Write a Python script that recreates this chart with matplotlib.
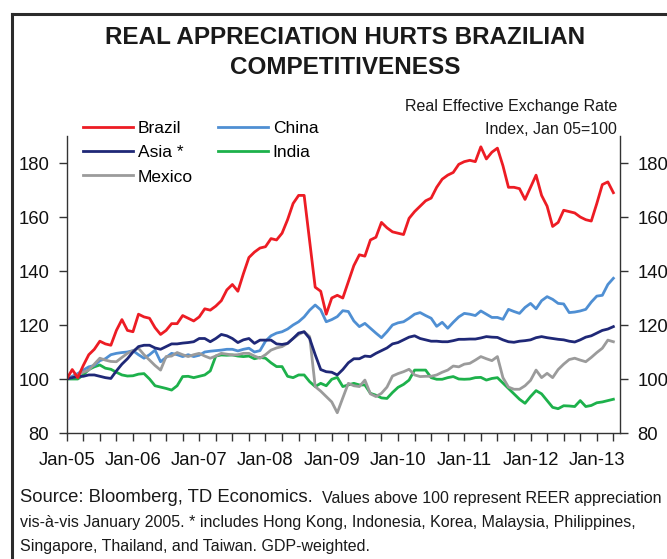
import matplotlib
matplotlib.use('Agg')
import matplotlib.pyplot as plt
from matplotlib.lines import Line2D
import numpy as np

plt.rcParams['font.family'] = ['Liberation Sans', 'DejaVu Sans']

# monthly REER index, Jan-05 .. Apr-13 (Jan 05 = 100)
brazil = [100, 103.5, 100.5, 105, 109, 111, 114, 113, 112.5, 118, 122, 118, 117.5, 124, 123, 122.5, 119, 116.5, 118, 120.5,
          120.5, 123.5, 122.5, 121.5, 123, 126, 125.5, 127, 129, 133, 135, 132.5, 139, 145, 147, 148.5, 149, 152, 151.5, 154,
          159, 165, 168, 168, 151, 134, 132.5, 124, 130, 131, 130, 136, 142, 146, 145.5, 151.5, 152.5, 158, 156, 154.5,
          154, 153.5, 159.5, 162, 164, 166, 167, 171, 174, 175.5, 176.5, 179.5, 180.5, 181, 180.5, 186, 181.5, 184, 185.5, 179,
          171, 171, 170.5, 166.5, 171, 175.5, 168, 164, 156.5, 158, 162.5, 162, 161.5, 160, 159, 158.5, 165, 172, 173, 169]
china = [100, 101, 102, 103.3, 104.5, 105, 106.8, 107.5, 109, 109.5, 109.8, 110, 110.5, 109, 107.7, 109, 110.7, 106.4, 108, 109.5,
         109, 108.3, 109, 108.3, 108.8, 110, 110.3, 110.5, 110.7, 111, 111, 110.4, 111, 111.4, 110, 110.5, 114, 116, 117, 117.5,
         118.5, 120, 121.2, 123, 125.5, 127.4, 125.6, 121.2, 122, 123.1, 125.3, 125, 121.5, 119.4, 120.6, 118.8, 117, 115.3, 117.5, 120,
         120.8, 121.2, 122.5, 124, 124.6, 123.5, 122.5, 119.5, 121, 118.8, 121, 123, 124.3, 124, 123.5, 125.2, 124, 122.8, 122.8, 122.1,
         125.8, 125, 124.3, 126.5, 128, 126, 129, 130.5, 129.5, 128, 127.8, 124.6, 124.8, 125.2, 125.8, 128.5, 130.7, 131, 135, 137.3]
asia = [100, 100.5, 101, 101, 101.5, 101.5, 101, 100.5, 100.2, 103, 105.5, 107.5, 110, 112, 112.5, 112.5, 111.5, 111, 112, 113,
        113, 113.3, 113.5, 113.8, 115, 115, 113.8, 115, 116.5, 116, 115, 113.5, 114.5, 115, 113.2, 114.4, 114.4, 114.4, 113, 112.8,
        113.2, 115, 117, 117.5, 115, 109, 103.5, 102.7, 102.5, 101.5, 103.5, 106, 107.5, 107.5, 108.5, 108.3, 109.5, 110.5, 111.5, 113,
        113.5, 114.5, 115.5, 116, 115, 114.5, 114, 114, 113.8, 113.8, 114.2, 114.7, 114.7, 114.8, 114.8, 115.2, 115.7, 115.5, 115.4, 114.5,
        113.8, 113.6, 114, 114.2, 114.5, 115.3, 115.7, 115.3, 115, 114.7, 114.5, 114, 113.7, 114.5, 115.5, 116, 117, 118, 118.5, 119.4]
india = [100, 100, 100, 101.5, 103.5, 104.5, 105.2, 104, 103.6, 102.5, 101.5, 101.1, 101.2, 101.8, 102, 100, 97.5, 97, 96.5, 95.9,
         97.5, 100.9, 101, 100.5, 101, 101.5, 103, 108.5, 108.9, 108.8, 108.9, 108.5, 108.3, 108.5, 107.5, 108, 107.7, 106, 104.6, 104.6,
         101, 100.5, 101.5, 101.5, 99, 97.2, 98.4, 97.5, 99.9, 100.6, 97.2, 97.8, 98.4, 97.8, 97.8, 94.7, 94, 93, 92.8, 95,
         96.9, 98, 99.6, 103.3, 103.3, 103.3, 100.5, 99.9, 99.9, 100.5, 100.9, 100, 99.9, 100, 100.5, 100.6, 99.6, 100.2, 100.5, 98.5,
         96.5, 94.5, 92.5, 91, 93.5, 95.7, 94.5, 92, 89.5, 89, 90.1, 90, 89.8, 92, 89.8, 90.2, 91.2, 91.5, 92, 92.5]
mexico = [100, 100.5, 101.5, 102.5, 103.3, 105.5, 107.7, 107, 106.5, 106.4, 108, 109.5, 110.5, 111.4, 109, 107, 105, 103.3, 108.3, 108.5,
          109.8, 109, 108.3, 109, 109.5, 108.5, 107.7, 108.5, 109.5, 109.2, 108.9, 109, 109.5, 109.5, 108.5, 107.7, 109, 110.7, 111.5, 112,
          113.2, 115, 116.5, 117.5, 115.7, 97.2, 95.5, 93.5, 91.5, 87.5, 93, 98.4, 97.5, 97.2, 99.6, 94.5, 93.5, 94.7, 97, 101.1,
          102, 102.7, 103.6, 101.5, 100.9, 101, 101, 101.5, 102.5, 103.3, 104.8, 104.5, 105.5, 105.8, 107, 108.3, 107.5, 106.8, 108.3, 100.5,
          97, 96.2, 96.2, 97.5, 99.5, 103.3, 100.5, 102.1, 100.5, 103.5, 105.5, 107.2, 107.7, 107, 106.4, 108, 109.8, 111.4, 114.4, 113.8]

year_labels = ['Jan-05', 'Jan-06', 'Jan-07', 'Jan-08', 'Jan-09', 'Jan-10', 'Jan-11', 'Jan-12', 'Jan-13']
y_ticks = [80, 100, 120, 140, 160, 180]

W, H = 667, 559
fig = plt.figure(figsize=(W / 100, H / 100), dpi=100)

def fx(px):
    return px / W

def fy(py):
    return 1 - py / H

ax = fig.add_axes([fx(66.7), fy(433), fx(620) - fx(66.7), fy(136) - fy(433)])

months = np.arange(len(brazil))
series = [
    ('Brazil', brazil, '#ED1C24'),
    ('Asia *', asia, '#1F2877'),
    ('Mexico', mexico, '#9B9B9B'),
    ('China', china, '#4F8FD3'),
    ('India', india, '#1DB14B'),
]
handles = {}
for name, vals, col in [series[4], series[3], series[2], series[1], series[0]]:
    h, = ax.plot(months, vals, color=col, lw=2.0, label=name, solid_joinstyle='round')
    handles[name] = h

ax.set_xlim(0, 100.2)
ax.set_ylim(80, 190)
ax.set_xticks(np.arange(0, 97, 12))
ax.set_xticklabels(year_labels)
ax.set_xticks(np.arange(0, 100, 3), minor=True)
ax.set_yticks(y_ticks)

spine_col = '#333333'
for s in ['left', 'right', 'bottom']:
    ax.spines[s].set_color(spine_col)
    ax.spines[s].set_linewidth(1.0)
ax.spines['top'].set_visible(False)
ax.tick_params(axis='both', which='both', direction='out', color=spine_col, width=1.0, length=6,
               labelsize=13.3, labelcolor='#111111')
ax.tick_params(axis='x', pad=8)
ax.tick_params(axis='y', left=True, right=True, labelleft=True, labelright=True, pad=6.5)

leg_order = ['Brazil', 'Asia *', 'Mexico', 'China', 'India']
fig.legend([handles[n] for n in leg_order], leg_order, loc='upper left',
           bbox_to_anchor=(fx(83), fy(121)), ncol=2, frameon=False,
           fontsize=12.5, handlelength=2.87, handletextpad=0.29, columnspacing=1.44,
           labelspacing=0.52, borderaxespad=0, borderpad=0)

# title
fig.text(fx(345), fy(37), 'REAL APPRECIATION HURTS BRAZILIAN', ha='center', va='center',
         fontsize=17.5, fontweight='bold', color='#1a1a1a')
fig.text(fx(345), fy(67), 'COMPETITIVENESS', ha='center', va='center',
         fontsize=17.5, fontweight='bold', color='#1a1a1a')

fig.text(fx(617), fy(106), 'Real Effective Exchange Rate', ha='right', va='center', fontsize=11.5, color='#1a1a1a')
fig.text(fx(617), fy(129), 'Index, Jan 05=100', ha='right', va='center', fontsize=11.5, color='#1a1a1a')

# source notes
fig.text(fx(20), fy(498), 'Source: Bloomberg, TD Economics.', ha='left', va='center', fontsize=13.3, color='#1a1a1a')
fig.text(fx(322), fy(498), 'Values above 100 represent REER appreciation', ha='left', va='center',
         fontsize=11.5, color='#1a1a1a')
fig.text(fx(20), fy(523), 'vis-\u00e0-vis January 2005. * includes Hong Kong, Indonesia, Korea, Malaysia, Philippines,',
         ha='left', va='center', fontsize=11.5, color='#1a1a1a')
fig.text(fx(20), fy(546), 'Singapore, Thailand, and Taiwan. GDP-weighted.', ha='left', va='center',
         fontsize=11.5, color='#1a1a1a')

# outer frame (top and left edges)
frame_kw = dict(color='#2b2b2b', lw=2.2, transform=fig.transFigure, solid_capstyle='projecting')
fig.add_artist(Line2D([fx(12), fx(12)], [0, fy(14)], **frame_kw))
fig.add_artist(Line2D([fx(12), 1], [fy(14), fy(14)], **frame_kw))

fig.savefig('out.png', dpi=100)
